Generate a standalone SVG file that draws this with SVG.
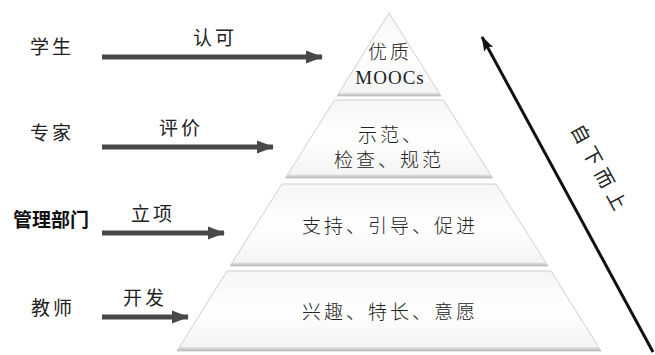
<svg xmlns="http://www.w3.org/2000/svg" width="655" height="355" viewBox="0 0 655 355">
<defs>
<style>
.lbl{font-family:"Noto Sans CJK SC","Liberation Serif",serif;font-size:19px;fill:#222;letter-spacing:3px;text-anchor:middle}
.in{font-family:"Noto Sans CJK SC","Liberation Serif",serif;font-size:19px;fill:#222;letter-spacing:3px;text-anchor:middle;font-weight:300}
.bold{font-family:"Noto Sans CJK SC","Liberation Sans",sans-serif;font-size:19px;font-weight:bold;fill:#111;text-anchor:middle}
.lay{fill:url(#g);stroke:#cfcfcf;stroke-width:1}
.band{fill:url(#b)}
.ga{stroke:#484848;stroke-width:5;fill:none;marker-end:url(#ah)}
</style>
<linearGradient id="g" x1="0" y1="0" x2="0" y2="1">
<stop offset="0" stop-color="#f6f6f6"/><stop offset="0.5" stop-color="#ffffff"/><stop offset="1" stop-color="#f3f3f3"/>
</linearGradient>
<linearGradient id="b" x1="0" y1="0" x2="0" y2="1">
<stop offset="0" stop-color="#e4e4e4"/><stop offset="1" stop-color="#b9b9b9"/>
</linearGradient>
<marker id="ah" markerUnits="userSpaceOnUse" markerWidth="18" markerHeight="16" refX="16" refY="8" orient="auto">
<path d="M0,1.5 L17,8 L0,14.5 Z" fill="#484848"/>
</marker>
<marker id="bh" markerUnits="userSpaceOnUse" markerWidth="16" markerHeight="12" refX="14" refY="6" orient="auto">
<path d="M0,1 L15,6 L0,11 L3,6 Z" fill="#111"/>
</marker>
</defs>
<g id="pyramid">
<g id="layer1">
<polygon class="lay" points="389,13 441,96 337,96"/>
<polygon class="band" points="339,93 439,93 441,96 337,96"/>
<text class="in" x="390" y="59">优质</text>
<text x="390" y="84" style="font-family:'Liberation Serif',serif;font-size:19px;fill:#222;text-anchor:middle;letter-spacing:1px">MOOCs</text>
</g>
<g id="layer2">
<polygon class="lay" points="334.5,100 443.5,100 492.5,178 285.5,178"/>
<polygon class="band" points="287.5,174.5 490.5,174.5 492.5,178 285.5,178"/>
<text class="in" x="391" y="142">示范、</text>
<text class="in" x="389" y="167">检查、规范</text>
</g>
<g id="layer3">
<polygon class="lay" points="282,184 496,184 548,266 230,266"/>
<polygon class="band" points="232,262.5 546,262.5 548,266 230,266"/>
<text class="in" x="390" y="233">支持、引导、促进</text>
</g>
<g id="layer4">
<polygon class="lay" points="227,271 551,271 601,351 177,351"/>
<polygon class="band" points="179,347 599,347 601,351 177,351"/>
<text class="in" x="390" y="319">兴趣、特长、意愿</text>
</g>
</g>
<g id="students"><text class="lbl" x="52" y="54">学生</text></g>
<g id="experts"><text class="lbl" x="52" y="140">专家</text></g>
<g id="admin"><text class="bold" x="51" y="227">管理部门</text></g>
<g id="teachers"><text class="lbl" x="53" y="315">教师</text></g>
<g id="connectors">
<line class="ga" x1="102" y1="57" x2="322" y2="57"/>
<line class="ga" x1="102" y1="147" x2="273" y2="147"/>
<line class="ga" x1="102" y1="233" x2="224" y2="233"/>
<line class="ga" x1="102" y1="317" x2="188" y2="317"/>
<text class="lbl" x="215" y="45">认可</text>
<text class="lbl" x="181" y="135">评价</text>
<text class="lbl" x="153" y="221">立项</text>
<text class="lbl" x="145" y="305">开发</text>
<line x1="653" y1="352" x2="482" y2="37" stroke="#111" stroke-width="3" marker-end="url(#bh)"/>
<text class="lbl" x="0" y="0" style="letter-spacing:6px" transform="translate(594,173) rotate(61.5)">自下而上</text>
</g>
</svg>
